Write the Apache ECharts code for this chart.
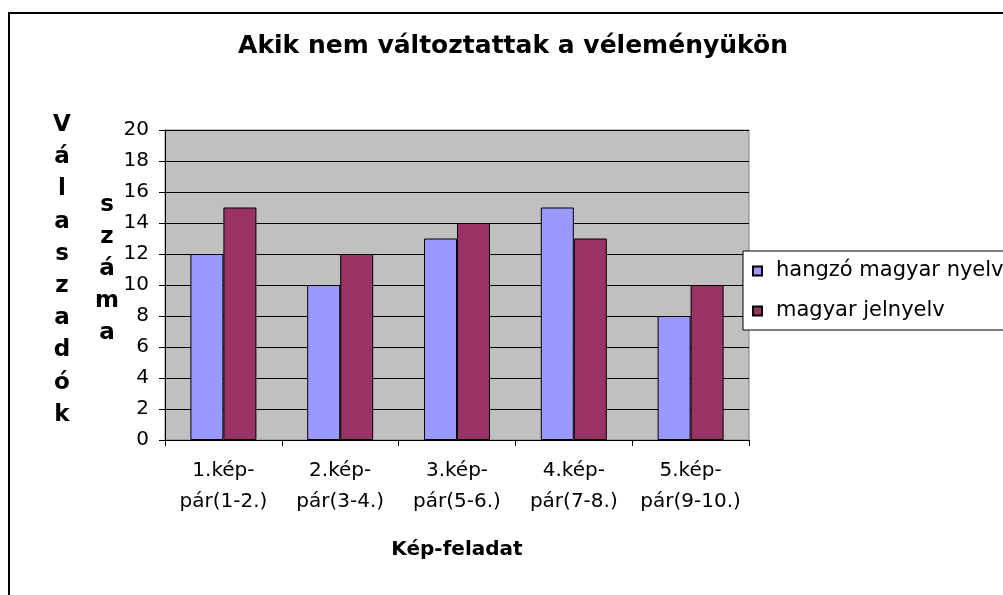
<!DOCTYPE html>
<html>
<head>
<meta charset="utf-8">
<script src="https://cdn.jsdelivr.net/npm/echarts@6/dist/echarts.min.js"></script>
<style>
  html, body { margin: 0; padding: 0; background: #ffffff; }
  #chart { width: 1003px; height: 595px; }
</style>
</head>
<body>
<div id="chart"></div>
<script>
// Categories (picture pairs) and the two series
const categories = [
  '1.kép-\npár(1-2.)',
  '2.kép-\npár(3-4.)',
  '3.kép-\npár(5-6.)',
  '4.kép-\npár(7-8.)',
  '5.kép-\npár(9-10.)'
];
const hangzoValues = [12, 10, 13, 15, 8];
const jelnyelvValues = [15, 12, 14, 13, 10];
const seriesNames = ['hangzó magyar nyelv', 'magyar jelnyelv'];

const chartTitle = 'Akik nem változtattak a véleményükön';
const yNameMain = 'Válaszadók';
const yNameSub = 'száma';
const xName = 'Kép-feladat';

const FONT = '"DejaVu Sans", "Liberation Sans", Arial, sans-serif';

const chart = echarts.init(document.getElementById('chart'), null, { renderer: 'canvas' });

const barStyle = (color) => ({
  color: color,
  borderColor: '#000000',
  borderWidth: 1
});

chart.setOption({
  animation: false,
  backgroundColor: '#ffffff',
  textStyle: { fontFamily: FONT },
  graphic: [
    {
      // outer chart frame
      type: 'rect',
      z: -10,
      shape: { x: 9, y: 13, width: 1200, height: 800 },
      style: { fill: 'none', stroke: '#000000', lineWidth: 2 }
    },
    {
      type: 'text',
      x: 513,
      y: 46,
      style: {
        text: chartTitle,
        font: 'bold 25px ' + FONT,
        fill: '#000000',
        align: 'center',
        verticalAlign: 'middle'
      }
    },
    {
      type: 'text',
      x: 62,
      y: 270,
      style: {
        text: yNameMain.split('').join('\n'),
        font: 'bold 23px ' + FONT,
        lineHeight: 32.2,
        fill: '#000000',
        align: 'center',
        verticalAlign: 'middle'
      }
    },
    {
      type: 'text',
      x: 107,
      y: 269,
      style: {
        text: yNameSub.split('').join('\n'),
        font: 'bold 23px ' + FONT,
        lineHeight: 32,
        fill: '#000000',
        align: 'center',
        verticalAlign: 'middle'
      }
    }
  ],
  legend: {
    orient: 'vertical',
    left: 743,
    top: 251,
    data: seriesNames,
    backgroundColor: '#ffffff',
    borderColor: '#000000',
    borderWidth: 1,
    padding: [9, 30, 8, 9],
    itemWidth: 9,
    itemHeight: 9,
    itemGap: 18,
    icon: 'rect',
    selectedMode: false,
    textStyle: {
      fontFamily: FONT,
      fontSize: 21,
      lineHeight: 22,
      color: '#000000',
      padding: [0, 0, 0, 9]
    },
    z: 20
  },
  grid: {
    left: 165,
    top: 130,
    width: 584,
    height: 310,
    show: true,
    backgroundColor: '#c0c0c0',
    borderColor: '#808080',
    borderWidth: 1,
    containLabel: false
  },
  xAxis: {
    type: 'category',
    data: categories,
    boundaryGap: true,
    name: xName,
    nameLocation: 'middle',
    nameGap: 100,
    nameTextStyle: {
      fontFamily: FONT,
      fontWeight: 'bold',
      fontSize: 20,
      color: '#000000'
    },
    axisLine: { show: true, lineStyle: { color: '#000000', width: 1 } },
    axisTick: { show: true, length: 6, lineStyle: { color: '#000000' } },
    axisLabel: {
      interval: 0,
      margin: 15,
      fontFamily: FONT,
      fontSize: 20,
      lineHeight: 31,
      color: '#000000'
    },
    splitLine: { show: false }
  },
  yAxis: {
    type: 'value',
    min: 0,
    max: 20,
    interval: 2,
    axisLine: { show: true, lineStyle: { color: '#000000', width: 1 } },
    axisTick: { show: true, length: 6, lineStyle: { color: '#000000' } },
    axisLabel: {
      margin: 16,
      fontFamily: FONT,
      fontSize: 20,
      color: '#000000'
    },
    splitLine: { show: true, lineStyle: { color: '#000000', width: 1 } }
  },
  series: [
    {
      name: seriesNames[0],
      type: 'bar',
      data: hangzoValues,
      barWidth: 33,
      barGap: '0%',
      itemStyle: barStyle('#9999ff')
    },
    {
      name: seriesNames[1],
      type: 'bar',
      data: jelnyelvValues,
      barWidth: 33,
      barGap: '0%',
      itemStyle: barStyle('#993366')
    }
  ]
});
</script>
</body>
</html>
